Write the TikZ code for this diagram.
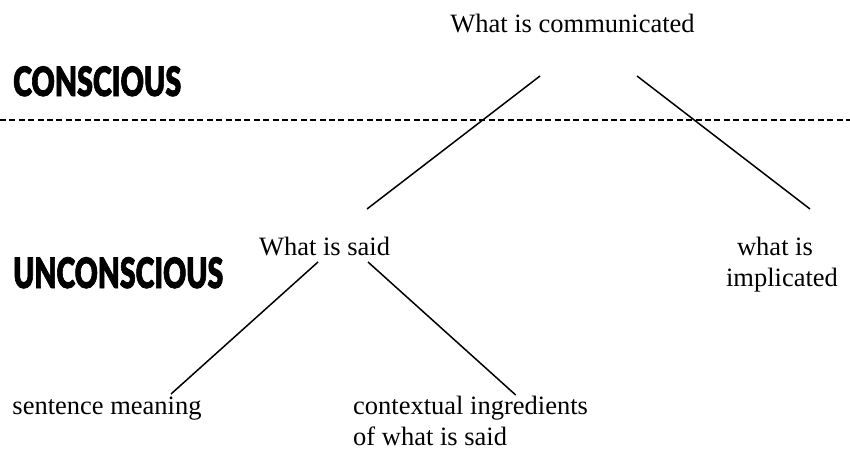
\documentclass[tikz,border=0pt]{standalone}
\usepackage{fontspec}
\setmainfont{Liberation Serif}
\newfontfamily\headfont{Lato Black}[FakeBold=2]
\begin{document}
\begin{tikzpicture}[x=1pt,y=-1pt,
  lbl/.style={inner sep=0pt,font=\fontsize{26.5}{31}\selectfont},
  head/.style={inner sep=0pt,anchor=base west},
  branch/.style={line width=1.5pt},
  divider/.style={line width=1.5pt,dash pattern=on 6pt off 3.4pt}]
\useasboundingbox (0,0) rectangle (850,453);
% texts
\node[lbl,anchor=base] (comm) at (572.5,32) {What is communicated};
\node[head] (cons) at (13,96) {\resizebox{168pt}{\height}{\fontsize{40.5}{41}\headfont CONSCIOUS}};
\node[head] (uncons) at (13,288) {\resizebox{210pt}{\height}{\fontsize{41.9}{42}\headfont UNCONSCIOUS}};
\node[lbl,anchor=base] (said) at (324.5,255) {What is said};
\node[lbl,anchor=base] (implA) at (775,255) {what is};
\node[lbl,anchor=base] (implB) at (782,286) {implicated};
\node[lbl,anchor=base] (sent) at (107,414) {sentence meaning};
\node[lbl,anchor=base west] (ctxA) at (353,414) {contextual ingredients};
\node[lbl,anchor=base west] (ctxB) at (353,445) {of what is said};
% divider
\coordinate (dl) at (0,120);
\coordinate (dr) at (850,120);
\draw[divider] (dl) -- (dr);
% branches
\draw[branch] ([shift={(-32.5,44)}]comm.base) -- ([shift={(42.5,-46)}]said.base);
\draw[branch] ([shift={(64.5,44)}]comm.base) -- ([shift={(35,-46)}]implA.base);
\draw[branch] ([shift={(-6.5,7)}]said.base) -- ([shift={(64,-20)}]sent.base);
\draw[branch] ([shift={(43.5,7)}]said.base) -- ([shift={(162.7,-19)}]ctxA.base west);
\end{tikzpicture}
\end{document}
